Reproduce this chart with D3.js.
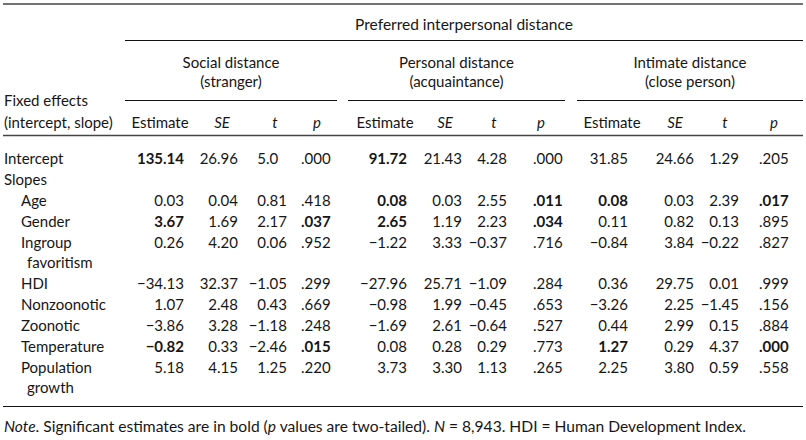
<!DOCTYPE html>
<html><head><meta charset="utf-8">
<script src="https://cdn.jsdelivr.net/npm/d3@7"></script>
<style>
html,body{margin:0;padding:0;background:#fff;}
svg{display:block;}
text{font-family:Lato,"Noto Sans",sans-serif;font-size:15px;fill:#161616;}
</style></head><body>
<svg id="chart" width="806" height="440"></svg>
<script>
// ---------- data ----------
const spanTitle = "Preferred interpersonal distance";
const groupTitles = [["Social distance","(stranger)"],["Personal distance","(acquaintance)"],["Intimate distance","(close person)"]];
const stubHeader = ["Fixed effects","(intercept, slope)"];
const statHeaders = ["Estimate","SE","t","p"];
const rowLabels = [["Intercept"],["Slopes"],["Age"],["Gender"],["Ingroup","favoritism"],["HDI"],["Nonzoonotic"],["Zoonotic"],["Temperature"],["Population","growth"]];
const rowIndent = [0,0,1,1,1,1,1,1,1,1];

const socialEstimate = ["135.14",null,"0.03","3.67","0.26","−34.13","1.07","−3.86","−0.82","5.18"];
const socialSE       = ["26.96",null,"0.04","1.69","4.20","32.37","2.48","3.28","0.33","4.15"];
const socialT        = ["5.0",null,"0.81","2.17","0.06","−1.05","0.43","−1.18","−2.46","1.25"];
const socialP        = [".000",null,".418",".037",".952",".299",".669",".248",".015",".220"];
const socialBoldEst  = [1,0,0,1,0,0,0,0,1,0];
const socialBoldP    = [0,0,0,1,0,0,0,0,1,0];

const personalEstimate = ["91.72",null,"0.08","2.65","−1.22","−27.96","−0.98","−1.69","0.08","3.73"];
const personalSE       = ["21.43",null,"0.03","1.19","3.33","25.71","1.99","2.61","0.28","3.30"];
const personalT        = ["4.28",null,"2.55","2.23","−0.37","−1.09","−0.45","−0.64","0.29","1.13"];
const personalP        = [".000",null,".011",".034",".716",".284",".653",".527",".773",".265"];
const personalBoldEst  = [1,0,1,1,0,0,0,0,0,0];
const personalBoldP    = [0,0,1,1,0,0,0,0,0,0];

const intimateEstimate = ["31.85",null,"0.08","0.11","−0.84","0.36","−3.26","0.44","1.27","2.25"];
const intimateSE       = ["24.66",null,"0.03","0.82","3.84","29.75","2.25","2.99","0.29","3.80"];
const intimateT        = ["1.29",null,"2.39","0.13","−0.22","0.01","−1.45","0.15","4.37","0.59"];
const intimateP        = [".205",null,".017",".895",".827",".999",".156",".884",".000",".558"];
const intimateBoldEst  = [0,0,1,0,0,0,0,0,1,0];
const intimateBoldP    = [0,0,1,0,0,0,0,0,1,0];

const groups = [
  {cols:[socialEstimate,socialSE,socialT,socialP], boldEst:socialBoldEst, boldP:socialBoldP},
  {cols:[personalEstimate,personalSE,personalT,personalP], boldEst:personalBoldEst, boldP:personalBoldP},
  {cols:[intimateEstimate,intimateSE,intimateT,intimateP], boldEst:intimateBoldEst, boldP:intimateBoldP}
];

// ---------- layout ----------
const svg = d3.select("#chart");
const stubX = 4, indentStep = 17, wrapIndent = 6;
const groupLeft = [125, 348, 577], groupRight = [337, 565, 803];
// right edges of 2-decimal values (est, SE, t) and left edge of p column
const colEdge = [[184,238,287,301],[407,462,507,533],[628,694,739,759]];
const headCenter = [[160,222,275,317],[385,445,494,541],[612,675,725,774]];

const rowPitch = 21, wrapPitch = 20, firstRowY = 164;
const wrapsBefore = rowLabels.map((d,i)=>d3.sum(rowLabels.slice(0,i), r=>r.length-1));
const rowY = d3.scaleLinear().domain([0,1]).range([firstRowY, firstRowY+rowPitch]);
const baseline = i => rowY(i) + wrapsBefore[i]*wrapPitch;

function rule(y, x1, x2, heavy){
  svg.append("line").attr("x1",x1).attr("x2",x2).attr("y1",y).attr("y2",y)
    .attr("stroke", heavy ? "#444" : "#111").attr("stroke-width", heavy ? 1.4 : 1);
}

// rules
rule(4, 3, 803, true);
rule(40.5, groupLeft[0], groupRight[2], false);
groupLeft.forEach((x,i)=>rule(100.5, x, groupRight[i], false));
rule(135.5, 3, 803, true);
rule(406.5, 3, 803, false);

// header texts
svg.append("text").attr("x",(groupLeft[0]+groupRight[2])/2).attr("y",30).attr("text-anchor","middle")
  .style("font-size","15.5px").text(spanTitle);
groupTitles.forEach((t,i)=>{
  const cx = (groupLeft[i]+groupRight[i])/2;
  t.forEach((line,j)=>svg.append("text").attr("x",cx).attr("y",68+j*19).attr("text-anchor","middle").text(line));
});
svg.append("text").attr("x",stubX).attr("y",106).text(stubHeader[0]);
svg.append("text").attr("x",stubX).attr("y",128).text(stubHeader[1]);
headCenter.forEach(g=>g.forEach((cx,k)=>{
  svg.append("text").attr("x",cx).attr("y",128).attr("text-anchor","middle")
    .style("font-style", k>0 ? "italic" : "normal").text(statHeaders[k]);
}));

// stub
rowLabels.forEach((lines,i)=>{
  lines.forEach((line,j)=>{
    svg.append("text")
      .attr("x", stubX + rowIndent[i]*indentStep + (j>0 ? wrapIndent : 0))
      .attr("y", baseline(i) + j*wrapPitch)
      .text(line);
  });
});

// measure helper
const meas = svg.append("text").attr("x",-1000).attr("y",-1000).text(".00");
const dotW = meas.node().getComputedTextLength();
meas.remove();

// cells (decimal aligned)
groups.forEach((g,gi)=>{
  g.cols.forEach((col,k)=>{
    const dotX = k<3 ? colEdge[gi][k] - dotW : colEdge[gi][k];
    col.forEach((v,i)=>{
      if(v===null) return;
      const bold = (k===0 && g.boldEst[i]) || (k===3 && g.boldP[i]);
      const t = svg.append("text").attr("y", baseline(i)).attr("x",0)
        .style("font-weight", bold ? "700" : "400").text(v);
      const di = v.indexOf(".");
      const w = di>0 ? t.node().getSubStringLength(0, di) : 0;
      t.attr("x", dotX - w);
    });
  });
});

// note
const note = svg.append("text").attr("x",stubX).attr("y",432).style("font-size","15.6px");
note.append("tspan").style("font-style","italic").text("Note");
note.append("tspan").text(". Significant estimates are in bold (");
note.append("tspan").style("font-style","italic").text("p");
note.append("tspan").text(" values are two-tailed). ");
note.append("tspan").style("font-style","italic").text("N");
note.append("tspan").text(" = 8,943. HDI = Human Development Index.");
</script>
</body></html>
